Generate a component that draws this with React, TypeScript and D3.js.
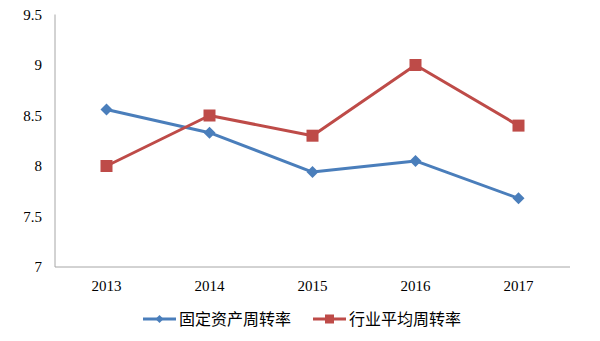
import React from "react";
import * as d3 from "d3";

const years = ["2013", "2014", "2015", "2016", "2017"];
const fixedAssetTurnover = [8.56, 8.33, 7.94, 8.05, 7.68];
const industryAvgTurnover = [8.0, 8.5, 8.3, 9.0, 8.4];
const yTicks = [7, 7.5, 8, 8.5, 9, 9.5];
const seriesNames = ["固定资产周转率", "行业平均周转率"];
const colors = ["#4A7EBB", "#BE4B48"];

const W = 600, H = 341;
const left = 55, right = 570, top = 14.5, bottom = 267;

export default function App() {
  const x = d3.scaleBand<string>().domain(years).range([left, right]);
  const y = d3.scaleLinear().domain([7, 9.5]).range([bottom, top]);
  const line = d3.line<number>().x((_, i) => x(years[i])! + x.bandwidth() / 2).y((d) => y(d));
  const serif = "'Liberation Serif', 'Times New Roman', serif";
  const cjk = "'Noto Sans CJK SC', sans-serif";
  const series = [fixedAssetTurnover, industryAvgTurnover];
  const diamond = (cx: number, cy: number, r: number) => `M${cx},${cy - r}L${cx + r},${cy}L${cx},${cy + r}L${cx - r},${cy}Z`;
  const legendX = [143, 313];
  return (
    <svg width={W} height={H} style={{ position: "absolute", left: 0, top: 0 }}>
      <rect width={W} height={H} fill="#fff" />
      <line x1={left} x2={left} y1={top} y2={bottom} stroke="#A6A6A6" strokeWidth={1} />
      <line x1={left} x2={right} y1={bottom} y2={bottom} stroke="#A6A6A6" strokeWidth={1} />
      {yTicks.map((t) => (
        <text key={t} x={left - 13} y={y(t)} dy="0.35em" textAnchor="end" fontFamily={serif} fontSize={15} fill="#000">
          {t}
        </text>
      ))}
      {years.map((yr) => (
        <text key={yr} x={x(yr)! + x.bandwidth() / 2} y={bottom + 24} textAnchor="middle" fontFamily={serif} fontSize={15} fill="#000">
          {yr}
        </text>
      ))}
      {series.map((s, si) => (
        <g key={si}>
          <path d={line(s)!} fill="none" stroke={colors[si]} strokeWidth={3} strokeLinejoin="round" />
          {s.map((v, i) => {
            const cx = x(years[i])! + x.bandwidth() / 2;
            const cy = y(v);
            return si === 0 ? (
              <path key={i} d={diamond(cx, cy, 6)} fill={colors[0]} />
            ) : (
              <rect key={i} x={cx - 6} y={cy - 6} width={12} height={12} fill={colors[1]} />
            );
          })}
        </g>
      ))}
      {seriesNames.map((n, i) => {
        const lx = legendX[i];
        const ly = 319;
        return (
          <g key={n}>
            <line x1={lx} x2={lx + 33} y1={ly} y2={ly} stroke={colors[i]} strokeWidth={3} />
            {i === 0 ? (
              <path d={diamond(lx + 16.5, ly, 4)} fill={colors[0]} />
            ) : (
              <rect x={lx + 12} y={ly - 4.5} width={9} height={9} fill={colors[1]} />
            )}
            <text x={lx + 36} y={ly} dy="0.35em" fontFamily={cjk} fontSize={16} fill="#000">
              {n}
            </text>
          </g>
        );
      })}
    </svg>
  );
}
